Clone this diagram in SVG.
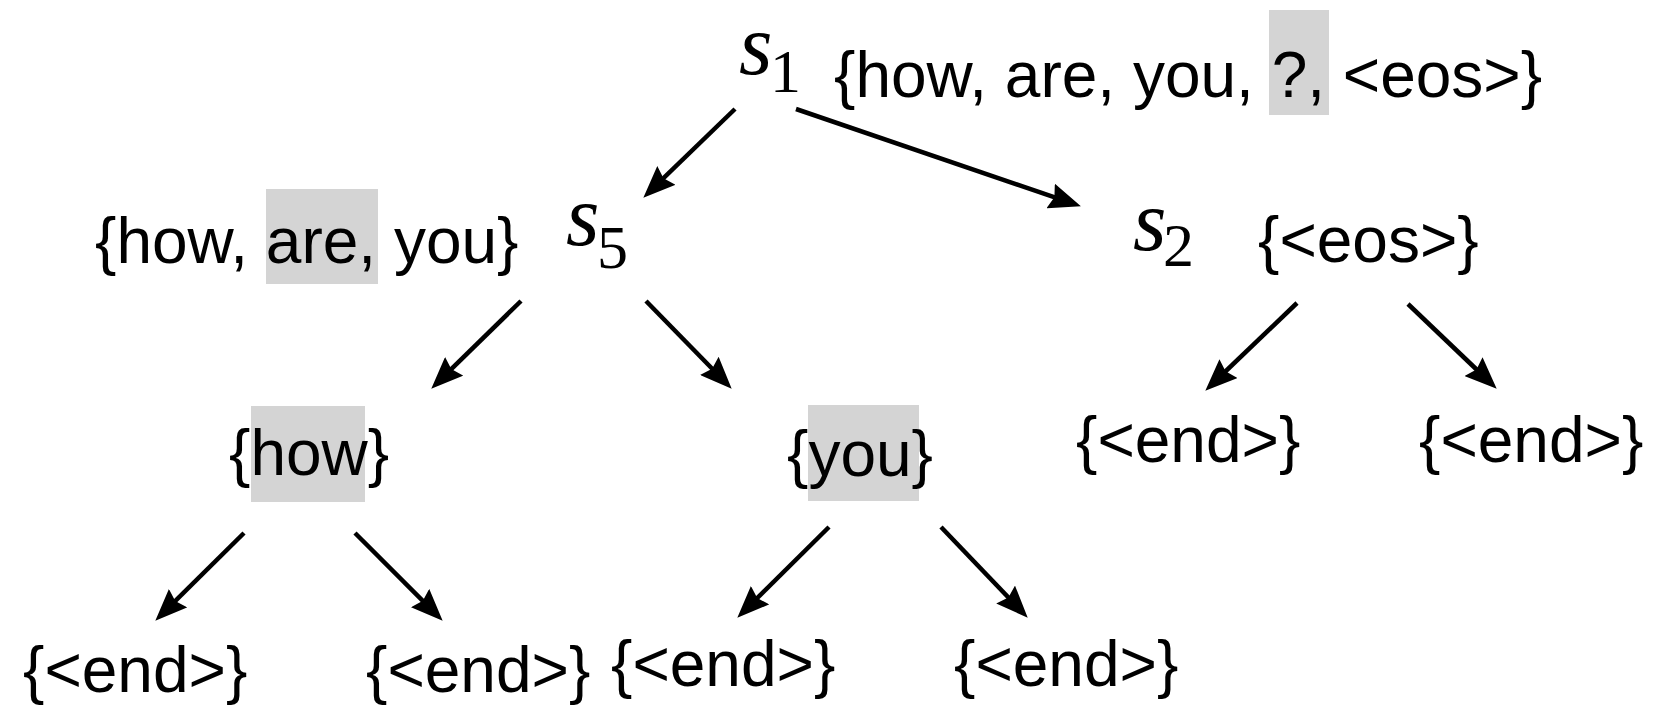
<svg xmlns="http://www.w3.org/2000/svg" width="1654" height="706" viewBox="0 0 1654 706">
<defs>
<style>
.t{font-family:"Liberation Sans",Arial,Helvetica,sans-serif;font-size:64px;fill:#000}
.m{font-family:"Liberation Serif","Times New Roman",serif;font-style:italic;font-size:86px;fill:#000}
.sub{font-family:"Liberation Serif","Times New Roman",serif;font-size:62px;fill:#000}
.hl{fill:#d4d4d4}
.c line{stroke:#000;stroke-width:4.5;marker-end:url(#ah)}
</style>
<marker id="ah" viewBox="0 0 32 26" refX="23" refY="13" markerWidth="32" markerHeight="26" markerUnits="userSpaceOnUse" orient="auto">
<path d="M0,0 L32,13 L0,26 L4,13 z" fill="#000"/>
</marker>
</defs>
<rect width="1654" height="706" fill="#fff"/>

<g id="s1">
<rect class="hl" x="1269" y="10" width="60" height="105"/>
<text class="m" x="739" y="74">s</text>
<text class="sub" x="770" y="92">1</text>
<text class="t" x="834" y="97">{how, are, you, ?, &lt;eos&gt;}</text>
</g>

<g id="s5">
<rect class="hl" x="266" y="189" width="112" height="95"/>
<text class="t" x="95" y="263">{how, are, you}</text>
<text class="m" x="566" y="245">s</text>
<text class="sub" x="597" y="268">5</text>
</g>

<g id="s2">
<text class="m" x="1133" y="250">s</text>
<text class="sub" x="1163" y="266">2</text>
<text class="t" x="1258" y="262">{&lt;eos&gt;}</text>
</g>

<g id="how">
<rect class="hl" x="251" y="406" width="114" height="96"/>
<text class="t" x="229" y="475">{how}</text>
</g>

<g id="you">
<rect class="hl" x="808" y="405" width="111" height="96"/>
<text class="t" x="787" y="476">{you}</text>
</g>

<g id="end_s2_l"><text class="t" x="1076" y="462">{&lt;end&gt;}</text></g>
<g id="end_s2_r"><text class="t" x="1419" y="462">{&lt;end&gt;}</text></g>
<g id="end_how_l"><text class="t" x="23" y="692">{&lt;end&gt;}</text></g>
<g id="end_how_r"><text class="t" x="366" y="692">{&lt;end&gt;}</text></g>
<g id="end_you_l"><text class="t" x="611" y="686">{&lt;end&gt;}</text></g>
<g id="end_you_r"><text class="t" x="954" y="686">{&lt;end&gt;}</text></g>

<g id="connectors" class="c">
<line x1="735" y1="109" x2="649.8" y2="191.4"/>
<line x1="796" y1="109" x2="1072.4" y2="203.4"/>
<line x1="521" y1="301" x2="437.7" y2="382.4"/>
<line x1="646" y1="301" x2="725.4" y2="382.3"/>
<line x1="1297" y1="303" x2="1211.8" y2="384.5"/>
<line x1="1408" y1="304" x2="1490.2" y2="382.5"/>
<line x1="244" y1="533" x2="161.7" y2="614.4"/>
<line x1="355" y1="533" x2="436.3" y2="614.3"/>
<line x1="829" y1="527" x2="743.7" y2="611.4"/>
<line x1="941" y1="527" x2="1021.5" y2="611.2"/>
</g>
</svg>
